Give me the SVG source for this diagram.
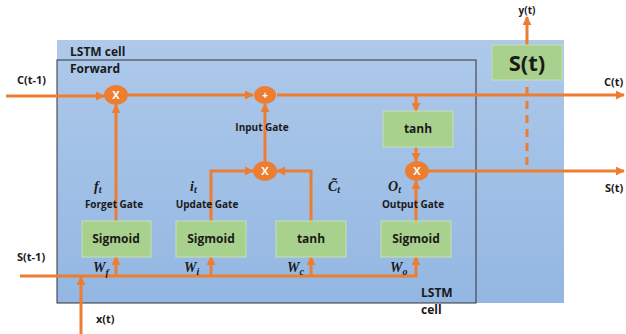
<svg xmlns="http://www.w3.org/2000/svg" width="626" height="334" viewBox="0 0 626 334">
<defs>
<linearGradient id="bg" x1="0" y1="0" x2="0" y2="1">
<stop offset="0" stop-color="#aec9ea"/>
<stop offset="1" stop-color="#93b7e2"/>
</linearGradient>
<marker id="ah" viewBox="0 0 10 10" refX="9" refY="5" markerWidth="9" markerHeight="9" markerUnits="userSpaceOnUse" orient="auto">
<path d="M0,0 L10,5 L0,10 z" fill="#ed7d31"/>
</marker>
</defs>
<style>
text{font-family:"Open Sans","Liberation Sans",sans-serif;font-weight:bold;fill:#1a1a1a}
.lbl{font-size:11px}
.gate{font-size:10px}
.box{fill:#a9d18e;stroke:#c5e0b4;stroke-width:1}
.bt{font-size:12px;text-anchor:middle}
.op{fill:#ed7d31}
.opt{fill:#ffffff;font-size:11px;text-anchor:middle}
.c{fill:none;stroke:#ed7d31;stroke-width:3}
.m{font-family:"Liberation Serif","DejaVu Serif",serif;font-style:italic;font-weight:bold;font-size:14px}
.sub{font-size:10px}
</style>
<g id="cell-bg">
<rect x="57" y="40" width="507" height="263" fill="url(#bg)"/>
<rect x="57" y="60" width="419" height="243" fill="none" stroke="#333" stroke-width="1"/>
<text x="70" y="56" style="font-size:12px">LSTM cell</text>
<text x="70" y="73" style="font-size:12px">Forward</text>
<text x="421" y="297" style="font-size:12px">LSTM</text>
<text x="421" y="314" style="font-size:12px">cell</text>
</g>
<g id="connectors">
<path class="c" d="M6,96 H104" marker-end="url(#ah)"/>
<path class="c" d="M128,95 H253" marker-end="url(#ah)"/>
<path class="c" d="M277,95 H624" marker-end="url(#ah)"/>
<path class="c" d="M416,95 V111" marker-end="url(#ah)"/>
<path class="c" d="M416,147 V161" marker-end="url(#ah)"/>
<path class="c" d="M429,171 H624" marker-end="url(#ah)"/>
<path class="c" d="M416,221 V181" marker-end="url(#ah)"/>
<path class="c" d="M116,221 V105" marker-end="url(#ah)"/>
<path class="c" d="M211,221 V171 H253" marker-end="url(#ah)"/>
<path class="c" d="M311,221 V171 H277" marker-end="url(#ah)"/>
<path class="c" d="M265,161 V104" marker-end="url(#ah)"/>
<path class="c" d="M20,276 H416 V257" marker-end="url(#ah)"/>
<path class="c" d="M116,276 V257" marker-end="url(#ah)"/>
<path class="c" d="M211,276 V257" marker-end="url(#ah)"/>
<path class="c" d="M311,276 V257" marker-end="url(#ah)"/>
<path class="c" d="M81,334 V277" marker-end="url(#ah)"/>
<path class="c" d="M527,45 V17" marker-end="url(#ah)"/>
<path class="c" d="M527,87 V166" stroke-dasharray="8,6" stroke-width="2.5"/>
</g>
<g id="forget-mul"><ellipse class="op" cx="116" cy="95" rx="12" ry="10"/><text class="opt" x="116" y="99">X</text></g>
<g id="add"><ellipse class="op" cx="265" cy="95" rx="11" ry="9"/><text class="opt" x="265" y="99" style="font-size:10px">+</text></g>
<g id="input-mul"><ellipse class="op" cx="265" cy="171" rx="12" ry="10"/><text class="opt" x="265" y="175">X</text></g>
<g id="output-mul"><ellipse class="op" cx="417" cy="171" rx="12" ry="10"/><text class="opt" x="417" y="175">X</text></g>
<g id="tanh-out"><rect class="box" x="383" y="111" width="70" height="36"/><text class="bt" x="418" y="133">tanh</text></g>
<g id="forget-sigmoid"><rect class="box" x="82" y="221" width="69" height="36"/><text class="bt" x="116" y="243">Sigmoid</text></g>
<g id="update-sigmoid"><rect class="box" x="176" y="221" width="70" height="36"/><text class="bt" x="211" y="243">Sigmoid</text></g>
<g id="cand-tanh"><rect class="box" x="276" y="221" width="70" height="36"/><text class="bt" x="311" y="243">tanh</text></g>
<g id="output-sigmoid"><rect class="box" x="381" y="221" width="70" height="36"/><text class="bt" x="416" y="243">Sigmoid</text></g>
<g id="state"><rect class="box" x="492" y="45" width="70" height="35"/><text x="527" y="71" style="font-size:22px;text-anchor:middle">S(t)</text></g>
<g id="labels">
<text class="lbl" x="17" y="84">C(t-1)</text>
<text class="lbl" x="604" y="86">C(t)</text>
<text class="lbl" x="605" y="192">S(t)</text>
<text class="lbl" x="17" y="261">S(t-1)</text>
<text class="lbl" x="96" y="323">x(t)</text>
<text class="gate" x="527" y="14" text-anchor="middle">y(t)</text>
<text class="gate" x="262" y="131" text-anchor="middle">Input Gate</text>
<text class="gate" x="114" y="208" text-anchor="middle">Forget Gate</text>
<text class="gate" x="207" y="208" text-anchor="middle">Update Gate</text>
<text class="gate" x="413" y="208" text-anchor="middle">Output Gate</text>
<text class="m" x="94" y="191">f<tspan class="sub" dy="2">t</tspan></text>
<text class="m" x="190" y="191">i<tspan class="sub" dy="2">t</tspan></text>
<text class="m" x="328" y="191">C̃<tspan class="sub" dy="2">t</tspan></text>
<text class="m" x="388" y="191">O<tspan class="sub" dy="2">t</tspan></text>
<text class="m" x="93" y="272">W<tspan class="sub" dy="4">f</tspan></text>
<text class="m" x="184" y="272">W<tspan class="sub" dy="3">i</tspan></text>
<text class="m" x="287" y="272">W<tspan class="sub" dy="3">c</tspan></text>
<text class="m" x="390" y="272">W<tspan class="sub" dy="3">o</tspan></text>
</g>
</svg>
